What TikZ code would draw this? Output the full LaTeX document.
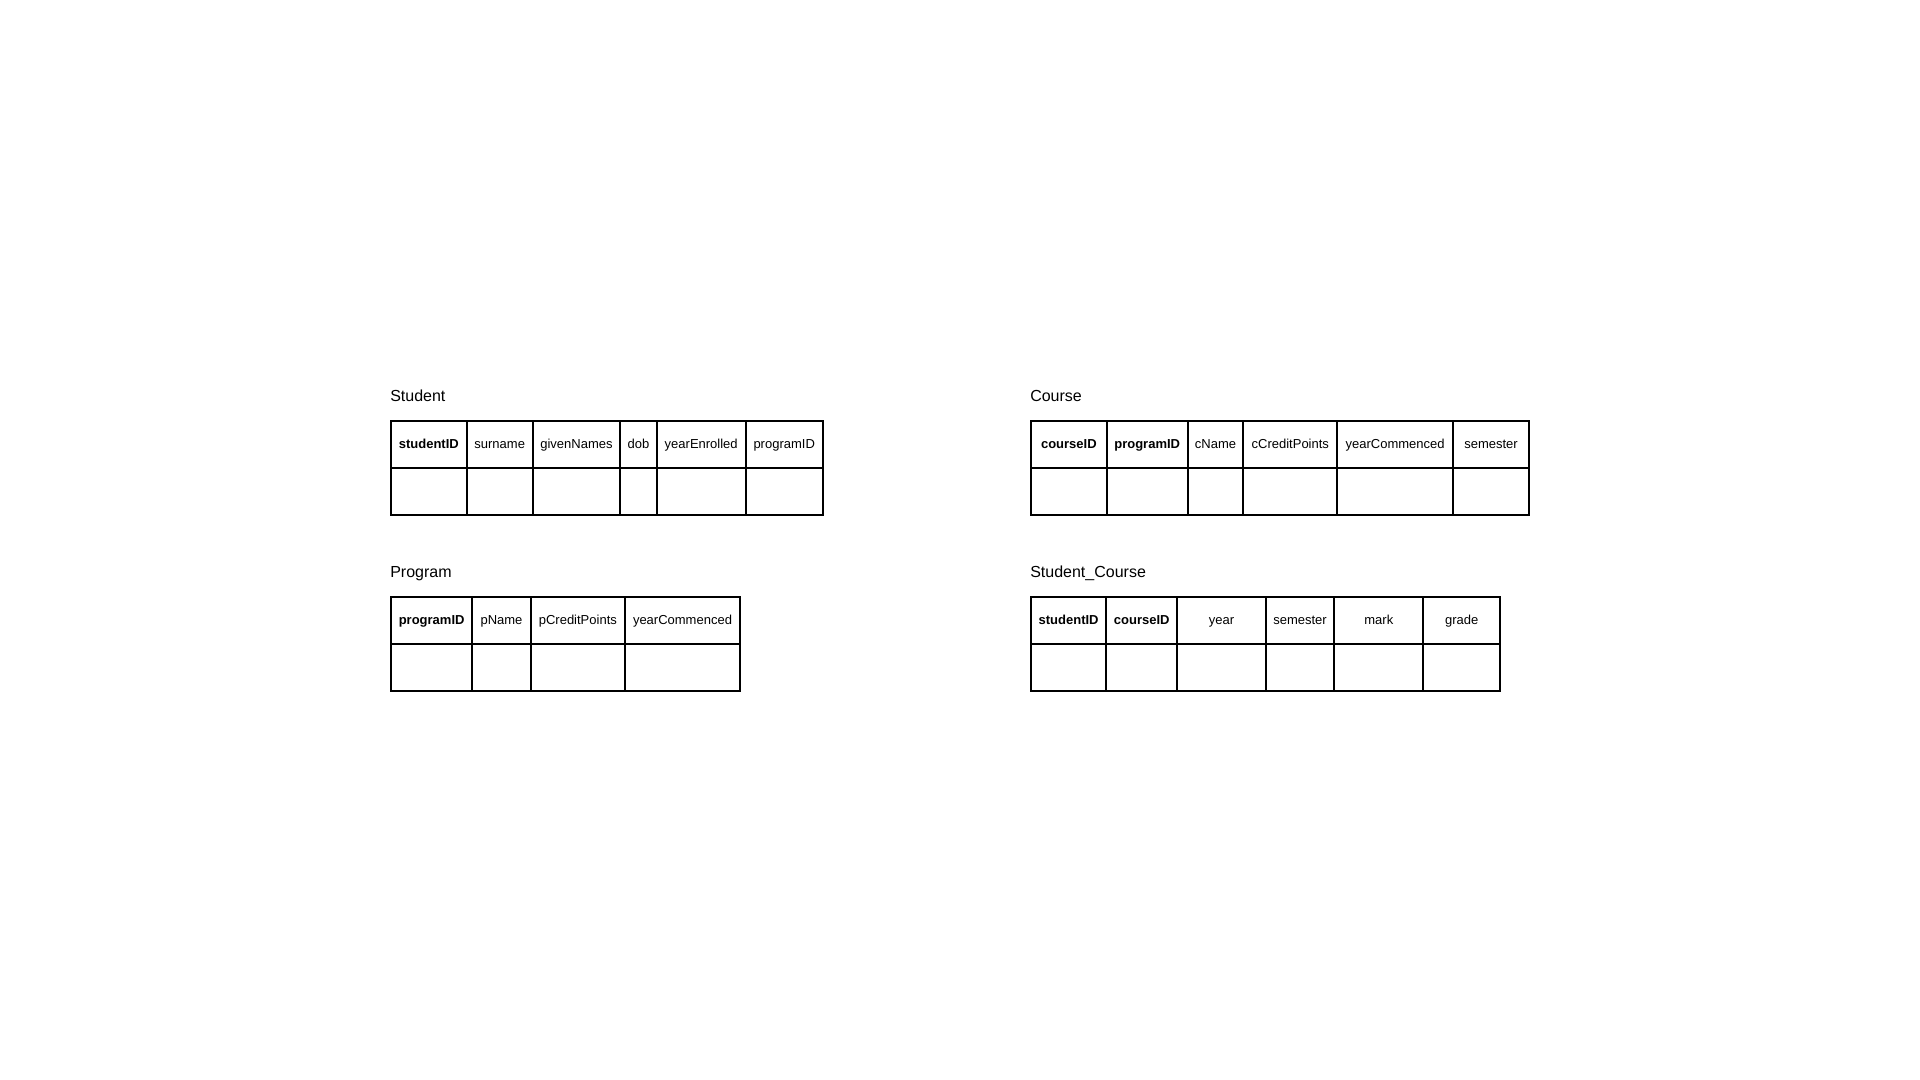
\documentclass[tikz,border=0pt]{standalone}
\usepackage{fontspec}
\setmainfont{Liberation Sans}
\begin{document}
\tikzset{
  cell/.style={draw, line width=1.5pt, inner sep=0pt, outer sep=0pt, anchor=north west,
    minimum height=35.25pt, text height=7pt, text depth=1pt,
    font=\fontsize{9.75}{11}\selectfont},
  title/.style={anchor=base west, inner sep=0pt, font=\fontsize{12}{14}\selectfont}
}
\begin{tikzpicture}[x=0.75pt,y=-0.75pt]
\useasboundingbox (0,0) rectangle (1920,1080);
% Student
\node[title] (stuT) at (390,401.7) {Student};
\foreach \a/\b/\t [count=\i] in {391/466.7/{\textbf{studentID}},466.7/532.7/surname,532.7/620.3/givenNames,620.3/656.7/dob,656.7/745.7/yearEnrolled,745.7/822.7/programID} {
  \node[cell, minimum width={(\b-\a)*0.75pt}] (stu-h\i) at (\a,421) {\t};
  \node[cell, minimum width={(\b-\a)*0.75pt}] (stu-d\i) at (\a,468) {};
}
% Course
\node[title] (crsT) at (1030,401.7) {Course};
\foreach \a/\b/\t [count=\i] in {1031/1106.7/{\textbf{courseID}},1106.7/1187.7/{\textbf{programID}},1187.7/1243.3/cName,1243.3/1337.3/cCreditPoints,1337.3/1453/yearCommenced,1453/1529/semester} {
  \node[cell, minimum width={(\b-\a)*0.75pt}] (crs-h\i) at (\a,421) {\t};
  \node[cell, minimum width={(\b-\a)*0.75pt}] (crs-d\i) at (\a,468) {};
}
% Program
\node[title] (prgT) at (390,577.7) {Program};
\foreach \a/\b/\t [count=\i] in {391/472.3/{\textbf{programID}},472.3/530.7/pName,530.7/625/pCreditPoints,625/740/yearCommenced} {
  \node[cell, minimum width={(\b-\a)*0.75pt}] (prg-h\i) at (\a,597) {\t};
  \node[cell, minimum width={(\b-\a)*0.75pt}] (prg-d\i) at (\a,644.3) {};
}
% Student_Course
\node[title] (scT) at (1030,577.7) {Student\_Course};
\foreach \a/\b/\t [count=\i] in {1031/1106.3/{\textbf{studentID}},1106.3/1177.3/{\textbf{courseID}},1177.3/1265.7/year,1265.7/1334.3/semester,1334.3/1423.3/mark,1423.3/1500/grade} {
  \node[cell, minimum width={(\b-\a)*0.75pt}] (sc-h\i) at (\a,597) {\t};
  \node[cell, minimum width={(\b-\a)*0.75pt}] (sc-d\i) at (\a,644.3) {};
}
\end{tikzpicture}
\end{document}
